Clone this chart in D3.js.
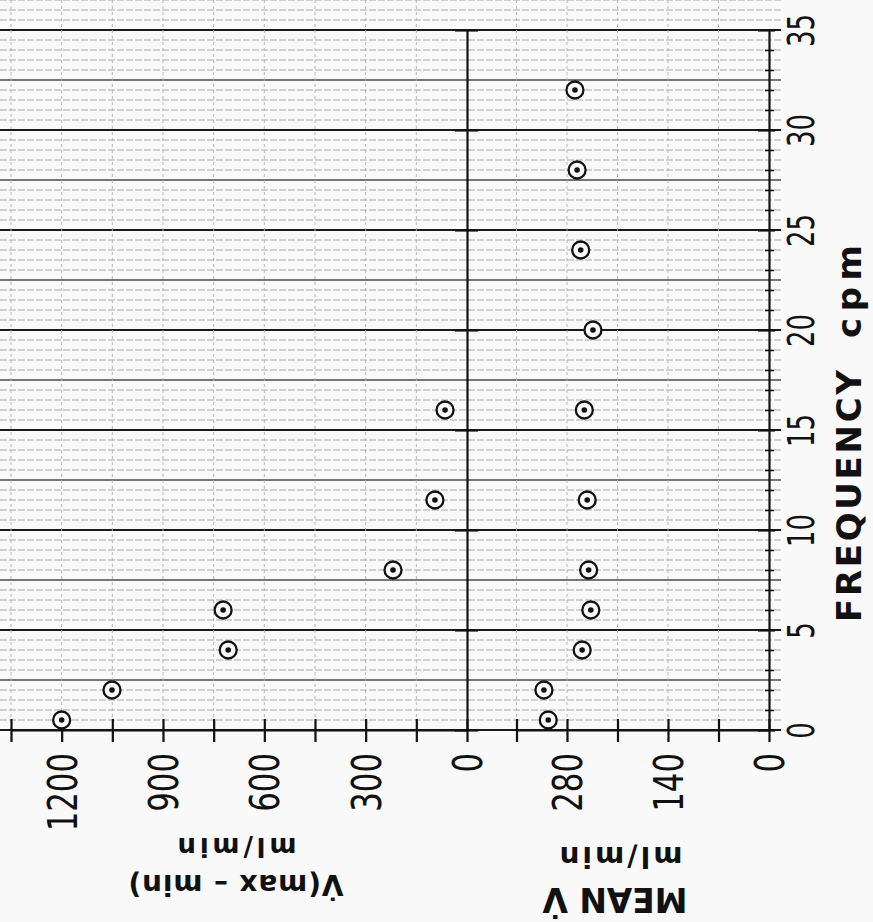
<!DOCTYPE html>
<html lang="en">
<head>
    <meta charset="UTF-8">
    <title>Frequency response - V(max-min) and mean V</title>
    <script src="https://d3js.org/d3.v7.min.js"></script>
    <style>
        body { margin: 0; background: #f9f9f9; }
    </style>
</head>
<body>
    <div id="chart"></div>

    <script>
        // upper panel: V(max - min), ml/min
        const freqAmp = [0.5, 2, 4, 6, 8, 11.5, 16];
        const vMaxMin = [1200, 1051, 707, 722, 219, 95, 65];

        // lower panel: mean V, ml/min
        const freqMean = [0.5, 2, 4, 6, 8, 11.5, 16, 20, 24, 28, 32];
        const meanV = [306, 312, 259, 247, 250, 252, 256, 244, 261, 266, 269];

        // ticks and labels
        const ampTicks = [0, 150, 300, 450, 600, 750, 900, 1050, 1200, 1350];
        const ampLabels = [0, 300, 600, 900, 1200];
        const meanTicks = [0, 70, 140, 210, 280, 350];
        const meanLabels = [0, 140, 280];
        const freqTicks = d3.range(0, 36, 1);
        const freqLabels = [0, 5, 10, 15, 20, 25, 30, 35];

        const width = 873;
        const height = 922;

        const svg = d3.select("#chart")
            .append("svg")
            .attr("width", width)
            .attr("height", height)
            .style("background", "#f9f9f9");

        // the figure is turned a quarter: frequency runs up the page
        const y = d3.scaleLinear().domain([0, 35]).range([730, 30]);
        const xAmp = d3.scaleLinear().domain([0, 1350]).range([467, 11]);
        const xMean = d3.scaleLinear().domain([0, 350]).range([769, 516.5]);

        // graph paper, horizontal rules every 0.5 cpm
        const grid = svg.append("g");
        grid.selectAll("line.h")
            .data(d3.range(0, 36.6, 0.5))
            .enter()
            .append("line")
            .attr("x1", 0)
            .attr("x2", 781)
            .attr("y1", d => y(d))
            .attr("y2", d => y(d))
            .attr("stroke", d => d % 5 === 0 ? "#1a1a1a" : (d % 2.5 === 0 ? "#4a4a4a" : "#a0a0a0"))
            .attr("stroke-width", d => d % 5 === 0 ? 1.8 : (d % 2.5 === 0 ? 1.3 : 0.9))
            .attr("stroke-dasharray", d => d % 2.5 === 0 ? null : "7,2");

        // vertical rules
        const vx = ampTicks.slice(1).map(d => xAmp(d)).concat(meanTicks.slice(1).map(d => xMean(d)));
        grid.selectAll("line.v")
            .data(vx)
            .enter()
            .append("line")
            .attr("x1", d => d)
            .attr("x2", d => d)
            .attr("y1", 0)
            .attr("y2", 742)
            .attr("stroke", "#b0b0b0")
            .attr("stroke-width", 0.9)
            .attr("stroke-dasharray", "3,3");

        const tickFont = "'DejaVu Sans', sans-serif";

        function styleAxis(g) {
            g.select(".domain").attr("stroke", "#111").attr("stroke-width", 2.2);
            g.selectAll(".tick line").attr("stroke", "#111").attr("stroke-width", 2.2);
            g.selectAll(".tick text")
                .attr("fill", "#111")
                .style("font-family", tickFont);
        }

        // bottom axes
        function bottomAxis(scale, ticks, labels) {
            const g = svg.append("g")
                .attr("transform", "translate(0,730)")
                .call(d3.axisBottom(scale)
                    .tickValues(ticks)
                    .tickSizeOuter(0)
                    .tickFormat(d => labels.includes(d) ? d : ""));
            styleAxis(g);
            g.selectAll(".tick line").attr("y1", -11).attr("y2", 12);
            g.selectAll(".tick text")
                .attr("x", 0)
                .attr("y", 0)
                .attr("dy", "0.36em")
                .attr("transform", "translate(0,23) rotate(-90) scale(0.77,1)")
                .attr("text-anchor", "end")
                .style("font-size", "40px");
        }
        bottomAxis(xAmp, ampTicks, ampLabels);
        bottomAxis(xMean, meanTicks, meanLabels);

        // frequency axis on the right
        const fAxis = svg.append("g")
            .attr("transform", "translate(769,0)")
            .call(d3.axisRight(y)
                .tickValues(freqTicks)
                .tickSizeOuter(0)
                .tickFormat(d => d % 5 === 0 ? d : ""));
        styleAxis(fAxis);
        fAxis.selectAll(".tick line")
            .attr("x1", d => d % 5 === 0 ? -11 : -4)
            .attr("x2", d => d % 5 === 0 ? 6 : 5)
            .attr("stroke-width", d => d % 5 === 0 ? 2.2 : 1.5);
        fAxis.selectAll(".tick text")
            .attr("x", 0)
            .attr("dy", "0.36em")
            .attr("transform", "translate(32,0) rotate(-90) scale(0.7,1)")
            .attr("text-anchor", "middle")
            .style("font-size", "37px");

        // zero line of the upper panel
        const zAxis = svg.append("g")
            .attr("transform", "translate(467,0)")
            .call(d3.axisRight(y).tickValues(freqLabels).tickSizeOuter(0).tickFormat(""));
        styleAxis(zAxis);
        zAxis.selectAll(".tick line").attr("x1", -12).attr("x2", 11);

        // data points: ringed dots
        function drawPoints(fs, vs, scale) {
            const pts = svg.append("g")
                .selectAll("g")
                .data(fs.map((f, i) => [f, vs[i]]))
                .enter()
                .append("g")
                .attr("transform", d => `translate(${scale(d[1])},${y(d[0])})`);
            pts.append("circle")
                .attr("r", 8.5)
                .attr("fill", "#f9f9f9")
                .attr("stroke", "#111")
                .attr("stroke-width", 2.3);
            pts.append("circle")
                .attr("r", 2.8)
                .attr("fill", "#111");
        }
        drawPoints(freqAmp, vMaxMin, xAmp);
        drawPoints(freqMean, meanV, xMean);

        // titles (upside down, as on the turned sheet)
        const titleFont = "'DejaVu Sans', sans-serif";
        function title(txt, cx, cy, rot, size, len, anchor) {
            svg.append("text")
                .attr("transform", `translate(${cx},${cy}) rotate(${rot})`)
                .attr("text-anchor", anchor || "middle")
                .attr("textLength", len)
                .attr("lengthAdjust", "spacing")
                .style("font-family", titleFont)
                .style("font-weight", "bold")
                .style("font-size", size + "px")
                .attr("fill", "#111")
                .text(txt);
        }
        title("ml/min", 237, 838, 180, 26, 119);
        title("V\u0307(max \u2013 min)", 236, 875, 180, 28, 215);
        title("ml/min", 621, 847, 180, 28, 123);
        title("MEAN V\u0307", 615, 888, 180, 33, 145);
        title("FREQUENCY", 861, 622, -90, 34, 252, "start");
        title("cpm", 861, 338, -90, 34, 93, "start");
    </script>
</body>
</html>
